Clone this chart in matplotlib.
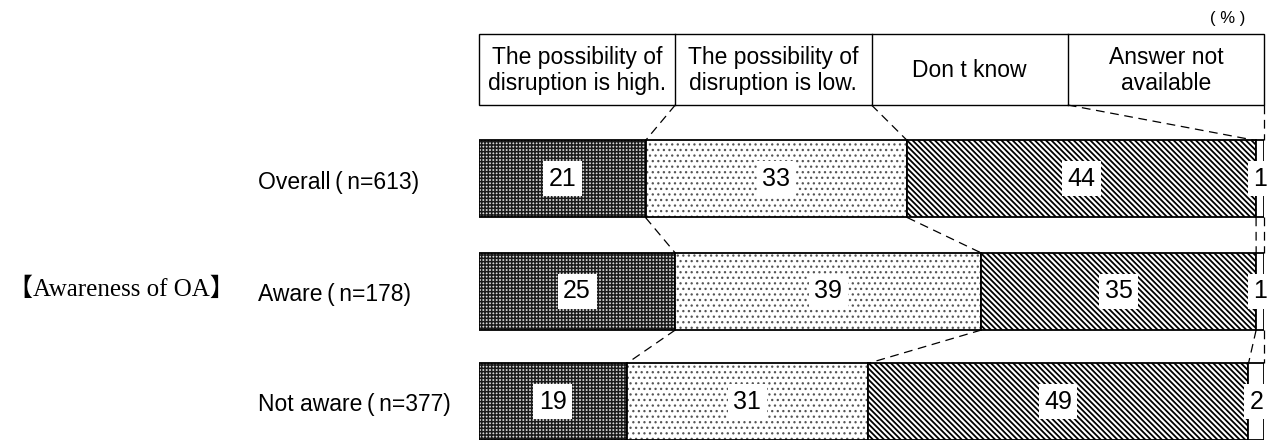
import matplotlib.pyplot as plt
import matplotlib.transforms as mtransforms
import numpy as np
from matplotlib.patches import Rectangle

plt.rcParams['hatch.linewidth'] = 1.1

# survey results, % of respondents per group
groups = ['Overall\u2009(\u2009n=613)', 'Aware\u2009(\u2009n=178)',
          'Not aware\u2009(\u2009n=377)']
categories = ['The possibility of\ndisruption is high.',
              'The possibility of\ndisruption is low.',
              'Don t know',
              'Answer not\navailable']
high = [21, 25, 19]
low = [33, 39, 31]
dont_know = [44, 35, 49]
no_answer = [1, 1, 2]
section_label = '【Awareness of OA】'

values = np.array([high, low, dont_know, no_answer], dtype=float).T
shares = values / values.sum(axis=1, keepdims=True) * 100
lefts = np.cumsum(shares, axis=1) - shares

# face colour, hatch, hatch colour, hatch width for each answer
styles = [
    ('#d8d8d8', '+++++', '#1a1a1a', 1.1),
    ('white', '...', '#555555', 0.9),
    ('white', '\\' * 6, 'black', 1.3),
    ('white', '', 'black', 1.0),
]

fig = plt.figure(figsize=(12.7, 4.4), dpi=100)
ax = fig.add_axes([479 / 1270, 0, 785 / 1270, 1])
ax.set_xlim(0, 100)
ax.set_ylim(440, 0)
ax.axis('off')

ys = np.array([179, 291.5, 402])
bar_h = 77

for k, (face, hatch, hcol, hlw) in enumerate(styles):
    bars = ax.barh(ys, shares[:, k], left=lefts[:, k], height=bar_h,
                   color=face, hatch=hatch, edgecolor=hcol, linewidth=0)
    for b in bars:
        if hasattr(b, 'set_hatch_linewidth'):
            b.set_hatch_linewidth(hlw)
    ax.barh(ys, shares[:, k], left=lefts[:, k], height=bar_h,
            fill=False, edgecolor='black', linewidth=1.3)
    for i in range(len(groups)):
        ax.text(lefts[i, k] + shares[i, k] / 2, ys[i], f'{values[i, k]:.0f}',
                ha='center', va='center', fontsize=18,
                family=['Liberation Sans Narrow', 'Liberation Sans'],
                bbox=dict(boxstyle='square,pad=0.22', fc='white', ec='none'))

# legend header as a row of boxes above the bars
head_top, head_bot = 34, 105
ax.add_patch(Rectangle((0, head_top), 100, head_bot - head_top, fill=False,
                       edgecolor='black', linewidth=1, clip_on=False))
for k, cat in enumerate(categories):
    if k:
        ax.plot([25 * k, 25 * k], [head_top, head_bot], color='black', lw=1)
    ax.text(25 * k + 12.5, (head_top + head_bot) / 2 + 1, cat, ha='center',
            va='center', fontsize=16.5, linespacing=1.15,
            family='Liberation Sans')
ax.text(97.6, 19, '( % )', ha='right', va='center', fontsize=12,
        family='Liberation Sans')

# dashed guides linking the segment boundaries
bounds = lefts + shares
dash = dict(color='black', lw=0.9, ls=(0, (7, 4.5)), clip_on=False)
for k in range(4):
    ax.plot([25 * (k + 1), bounds[0, k]], [head_bot, ys[0] - bar_h / 2], **dash)
    for i in range(len(groups) - 1):
        ax.plot([bounds[i, k], bounds[i + 1, k]],
                [ys[i] + bar_h / 2, ys[i + 1] - bar_h / 2], **dash)

trans = mtransforms.blended_transform_factory(fig.transFigure, ax.transData)
for i, g in enumerate(groups):
    ax.text(258 / 1270, ys[i] + 3, g, transform=trans, ha='left', va='center',
            fontsize=16.5, family=['Liberation Sans', 'DejaVu Sans'])
ax.text(8 / 1270, ys[1] - 2, section_label, transform=trans, ha='left',
        va='center', fontsize=18, family=['Liberation Serif', 'Noto Sans CJK JP'])

fig.savefig('out.png', dpi=100)
